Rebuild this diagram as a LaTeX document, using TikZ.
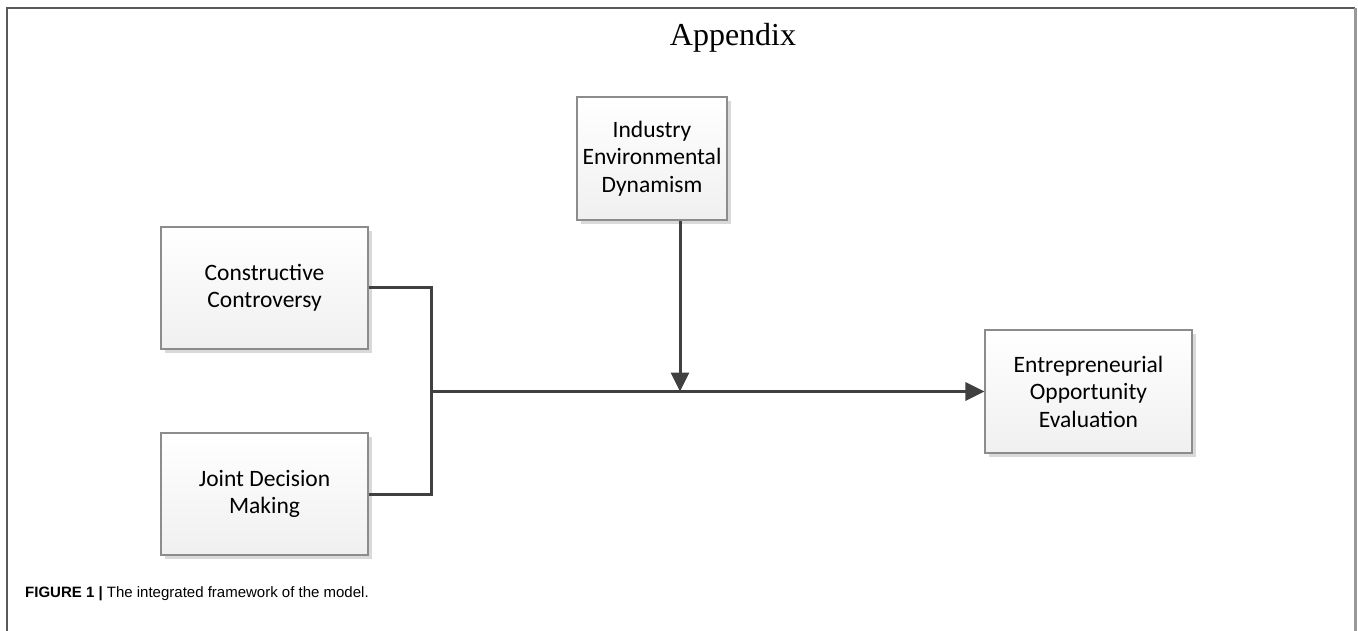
\documentclass[tikz,border=0pt]{standalone}
\usepackage{fontspec}
\setmainfont{Liberation Serif}
\newfontfamily\boxfont{Carlito}
\newfontfamily\capfont{Liberation Sans}
\usetikzlibrary{arrows.meta,shadows}
\definecolor{linegray}{HTML}{404040}
\definecolor{boxborder}{HTML}{8C8C8C}
\definecolor{shadowgray}{HTML}{D9D9D9}
\tikzset{
  fbox/.style={draw=boxborder, line width=1.2pt, top color=white, bottom color=gray!12,
    drop shadow={shadow xshift=4pt, shadow yshift=-4pt, fill=shadowgray, opacity=1},
    align=center, font=\boxfont\fontsize{23.5}{27.5}\selectfont, inner sep=0pt},
  conn/.style={draw=linegray, line width=3pt},
  arr/.style={conn, -{Triangle[length=19pt,width=18pt]}},
}
\begin{document}
\begin{tikzpicture}[x=1pt,y=-1pt]
\useasboundingbox (0,0) rectangle (1358,631);
\draw[draw=gray!70!black, line width=2pt] (7,631) -- (7,8) -- (1355,8);
\draw[draw=gray!80, line width=3pt] (1355,8) -- (1355,631);
\node[font=\fontsize{32}{36}\selectfont] (title) at (733,38) {Appendix};
\node[fbox, minimum width=150pt, minimum height=123pt] (ind) at (652,158.5) {Industry\\Environmental\\Dynamism};
\node[fbox, minimum width=207pt, minimum height=122pt] (con) at (264.5,288) {Constructive\\Controversy};
\node[fbox, minimum width=207pt, minimum height=122pt] (joi) at (264.5,494) {Joint Decision\\Making};
\node[fbox, minimum width=207pt, minimum height=123pt] (ent) at (1088.5,391.5) {Entrepreneurial\\Opportunity\\Evaluation};
\coordinate (J) at (431,391.5);
\coordinate (M) at (680,391.5);
\draw[conn] (con.east) -- (J |- con.east) -- (J |- joi.east) -- (joi.east);
\draw[arr] (J) -- (ent.west);
\draw[arr] (M |- ind.south) -- (M);
\node[anchor=base west, font=\capfont\fontsize{15}{18}\selectfont, inner sep=0pt] (cap) at (25,597) {\textbf{FIGURE 1 |} The integrated framework of the model.};
\end{tikzpicture}
\end{document}
